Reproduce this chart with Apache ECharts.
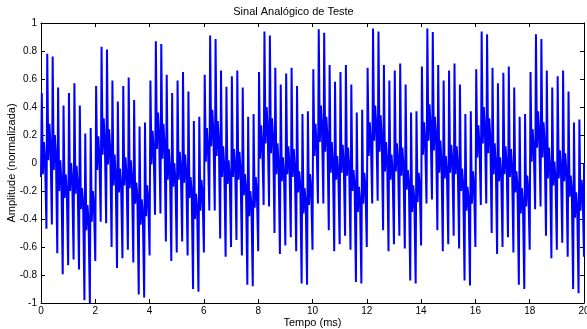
<!DOCTYPE html>
<html>
<head>
<meta charset="utf-8">
<script src="https://cdn.jsdelivr.net/npm/echarts@6/dist/echarts.min.js"></script>
<style>
  html, body { margin: 0; padding: 0; background: #fff; }
  #chart { width: 587px; height: 329px; }
</style>
</head>
<body>
<div id="chart"></div>
<script>
// Spike bars every 0.2 ms: lowest and highest sample of each bar (normalized amplitude)
const troughs = [
  -0.10, -0.47, -0.44, -0.645, -0.795, -0.73, -0.69, -0.76, -0.98, -1.00,
  -0.70, -0.42, -0.43, -0.60, -0.75, -0.68, -0.62, -0.71, -0.94, -0.96,
  -0.66, -0.37, -0.36, -0.56, -0.70, -0.64, -0.56, -0.66, -0.90, -0.92,
  -0.64, -0.34, -0.34, -0.54, -0.67, -0.60, -0.55, -0.66, -0.87, -0.88,
  -0.63, -0.30, -0.31, -0.50, -0.65, -0.59, -0.53, -0.63, -0.86, -0.87,
  -0.62, -0.29, -0.29, -0.48, -0.63, -0.58, -0.52, -0.62, -0.85, -0.86,
  -0.60, -0.29, -0.27, -0.48, -0.63, -0.58, -0.52, -0.61, -0.84, -0.86,
  -0.59, -0.29, -0.26, -0.48, -0.63, -0.58, -0.52, -0.61, -0.84, -0.875,
  -0.60, -0.30, -0.29, -0.50, -0.65, -0.60, -0.53, -0.64, -0.87, -0.90,
  -0.62, -0.33, -0.31, -0.52, -0.68, -0.62, -0.57, -0.67, -0.90, -0.93
];
const peaks = [
  0.50, 0.78, 0.76, 0.54, 0.41, 0.50, 0.57, 0.41, 0.21, 0.25,
  0.55, 0.83, 0.81, 0.59, 0.44, 0.55, 0.61, 0.45, 0.26, 0.29,
  0.59, 0.87, 0.85, 0.63, 0.50, 0.59, 0.65, 0.51, 0.30, 0.33,
  0.63, 0.91, 0.885, 0.66, 0.545, 0.62, 0.66, 0.54, 0.33, 0.35,
  0.65, 0.94, 0.91, 0.68, 0.56, 0.64, 0.68, 0.55, 0.35, 0.37,
  0.67, 0.955, 0.93, 0.70, 0.58, 0.65, 0.70, 0.56, 0.36, 0.38,
  0.68, 0.96, 0.94, 0.70, 0.59, 0.66, 0.71, 0.56, 0.36, 0.37,
  0.69, 0.96, 0.935, 0.70, 0.59, 0.66, 0.71, 0.56, 0.35, 0.37,
  0.67, 0.94, 0.92, 0.68, 0.57, 0.645, 0.69, 0.54, 0.33, 0.35,
  0.65, 0.92, 0.885, 0.66, 0.54, 0.62, 0.66, 0.51, 0.29, 0.31
];
// Slower band between bars: low / high / middle samples per 0.2 ms slot
const bandLow = [
  -0.08, 0.02, -0.05, -0.20, -0.25, -0.20, -0.22, -0.33, -0.48, -0.42,
  -0.05, 0.06, -0.01, -0.16, -0.21, -0.16, -0.18, -0.29, -0.44, -0.38,
  -0.01, 0.10, 0.03, -0.12, -0.17, -0.12, -0.14, -0.25, -0.40, -0.34,
  0.01, 0.12, 0.05, -0.10, -0.15, -0.10, -0.12, -0.23, -0.38, -0.32,
  0.03, 0.14, 0.07, -0.08, -0.13, -0.08, -0.10, -0.21, -0.36, -0.30,
  0.05, 0.15, 0.08, -0.07, -0.12, -0.07, -0.09, -0.20, -0.35, -0.29,
  0.05, 0.16, 0.08, -0.06, -0.12, -0.06, -0.09, -0.19, -0.35, -0.28,
  0.06, 0.16, 0.09, -0.07, -0.11, -0.07, -0.08, -0.20, -0.34, -0.29,
  0.04, 0.14, 0.07, -0.08, -0.13, -0.08, -0.10, -0.21, -0.36, -0.31,
  0.01, 0.11, 0.04, -0.11, -0.16, -0.11, -0.13, -0.24, -0.39, -0.34
];
const bandHigh = [
  0.15, 0.28, 0.20, 0.02, -0.08, 0.00, -0.02, -0.18, -0.30, -0.20,
  0.19, 0.32, 0.24, 0.06, -0.04, 0.04, 0.02, -0.14, -0.26, -0.16,
  0.23, 0.36, 0.28, 0.10, 0.00, 0.08, 0.06, -0.10, -0.22, -0.12,
  0.25, 0.38, 0.30, 0.12, 0.02, 0.10, 0.08, -0.08, -0.20, -0.10,
  0.27, 0.40, 0.32, 0.14, 0.04, 0.12, 0.10, -0.06, -0.18, -0.08,
  0.28, 0.41, 0.33, 0.15, 0.05, 0.13, 0.11, -0.05, -0.17, -0.07,
  0.29, 0.41, 0.34, 0.15, 0.06, 0.14, 0.11, -0.05, -0.16, -0.07,
  0.29, 0.42, 0.33, 0.16, 0.05, 0.13, 0.12, -0.04, -0.17, -0.06,
  0.27, 0.40, 0.32, 0.14, 0.04, 0.12, 0.10, -0.06, -0.18, -0.09,
  0.24, 0.37, 0.29, 0.11, 0.01, 0.09, 0.07, -0.09, -0.21, -0.12
];
const bandMid = [
  0.02, 0.12, 0.06, -0.12, -0.20, -0.12, -0.15, -0.28, -0.40, -0.30,
  0.05, 0.16, 0.10, -0.08, -0.16, -0.08, -0.11, -0.24, -0.36, -0.26,
  0.09, 0.20, 0.14, -0.04, -0.12, -0.04, -0.07, -0.20, -0.32, -0.22,
  0.11, 0.22, 0.16, -0.02, -0.10, -0.02, -0.05, -0.18, -0.30, -0.20,
  0.13, 0.24, 0.18, 0.00, -0.08, 0.00, -0.03, -0.16, -0.28, -0.18,
  0.14, 0.25, 0.19, 0.01, -0.07, 0.01, -0.02, -0.15, -0.27, -0.17,
  0.15, 0.26, 0.19, 0.02, -0.06, 0.02, -0.02, -0.14, -0.26, -0.16,
  0.15, 0.26, 0.20, 0.02, -0.06, 0.02, -0.01, -0.15, -0.26, -0.16,
  0.13, 0.24, 0.18, 0.00, -0.08, 0.00, -0.03, -0.16, -0.28, -0.19,
  0.10, 0.21, 0.15, -0.03, -0.11, -0.03, -0.06, -0.19, -0.31, -0.22
];
// Last bar at 20 ms (record ends on it)
const lastBar = [-0.67, 0.00];

const slotMs = 0.2;           // spacing of the bars
const xTicks = [0, 2, 4, 6, 8, 10, 12, 14, 16, 18, 20];
const yTicks = [-1, -0.8, -0.6, -0.4, -0.2, 0, 0.2, 0.4, 0.6, 0.8, 1];

// Sample sequence inside each slot: trough, peak, band low, band high, band mid
const points = [];
for (let k = 0; k < peaks.length; k++) {
  const t = k * slotMs;
  points.push([t, troughs[k]]);
  points.push([t + 0.03, peaks[k]]);
  points.push([t + 0.07, bandLow[k]]);
  points.push([t + 0.11, bandHigh[k]]);
  points.push([t + 0.15, bandMid[k]]);
}
points.push([20, lastBar[0]]);
points.push([20, lastBar[1]]);

const font = 'Liberation Sans, Arial, sans-serif';
const chart = echarts.init(document.getElementById('chart'), null, { renderer: 'canvas' });

const baseX = {
  type: 'value', min: xTicks[0], max: xTicks[xTicks.length - 1], interval: 2,
  axisLine: { show: true, onZero: false, lineStyle: { color: '#000', width: 1 } },
  axisTick: { show: true, inside: true, length: 4, lineStyle: { color: '#000' } },
  splitLine: { show: false }
};
const baseY = {
  type: 'value', min: yTicks[0], max: yTicks[yTicks.length - 1], interval: 0.2,
  axisLine: { show: true, onZero: false, lineStyle: { color: '#000', width: 1 } },
  axisTick: { show: true, inside: true, length: 4, lineStyle: { color: '#000' } },
  splitLine: { show: false }
};

chart.setOption({
  animation: false,
  backgroundColor: '#fff',
  title: {
    text: 'Sinal Analógico de Teste',
    left: 'center', top: 1,
    textStyle: { fontFamily: font, fontSize: 11, fontWeight: 'normal', color: '#000' }
  },
  grid: {
    left: 41, top: 23, width: 543, height: 280, show: false,
    containLabel: false, outerBoundsMode: 'none'
  },
  xAxis: [
    Object.assign({}, baseX, {
      position: 'bottom',
      axisLabel: { show: true, margin: 3, fontFamily: font, fontSize: 10, color: '#000' },
      name: 'Tempo (ms)', nameLocation: 'middle', nameGap: 14, nameMoveOverlap: false,
      nameTextStyle: { fontFamily: font, fontSize: 11, color: '#000' }
    }),
    Object.assign({}, baseX, { position: 'top', axisLabel: { show: false } })
  ],
  yAxis: [
    Object.assign({}, baseY, {
      position: 'left',
      axisLabel: {
        show: true, margin: 4, fontFamily: font, fontSize: 10, color: '#000',
        formatter: v => String(Math.round(v * 10) / 10)
      },
      name: 'Amplitude (normalizada)', nameLocation: 'middle', nameGap: 24, nameMoveOverlap: false,
      nameTextStyle: { fontFamily: font, fontSize: 11, color: '#000' }
    }),
    Object.assign({}, baseY, { position: 'right', axisLabel: { show: false } })
  ],
  series: [{
    type: 'line',
    data: points,
    showSymbol: false,
    symbol: 'none',
    lineStyle: { color: '#0000ff', width: 2 },
    clip: true
  }]
});
</script>
</body>
</html>
